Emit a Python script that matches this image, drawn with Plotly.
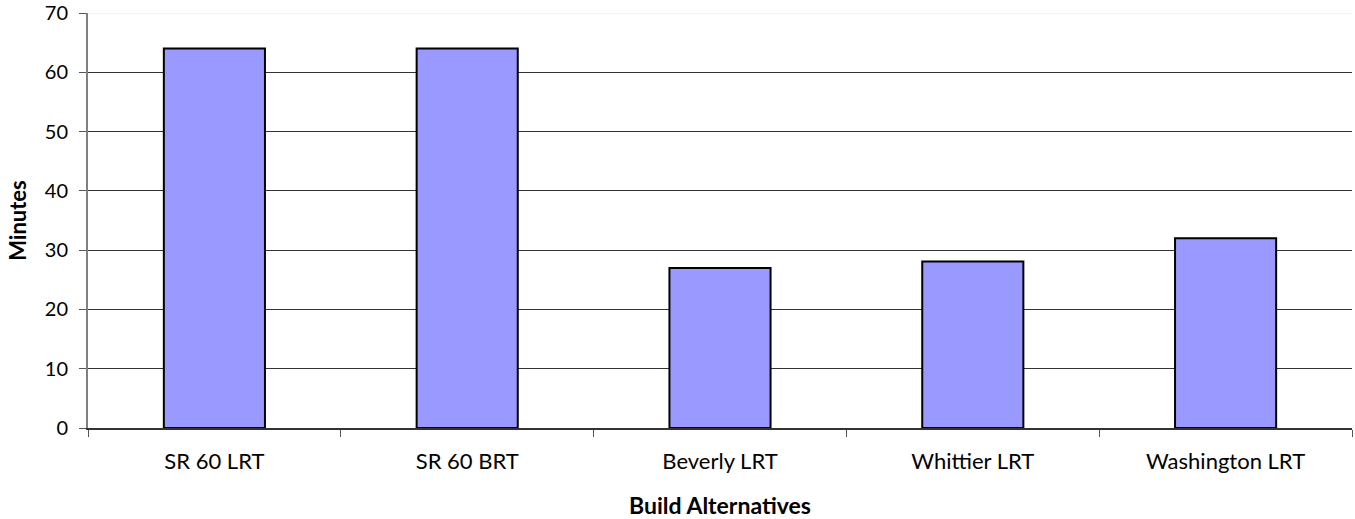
import plotly.graph_objects as go

categories = ["SR 60 LRT", "SR 60 BRT", "Beverly LRT", "Whittier LRT", "Washington LRT"]
minutes = [64, 64, 27, 28.1, 32]
y_ticks = [0, 10, 20, 30, 40, 50, 60, 70]

font_family = "Lato, 'Open Sans', sans-serif"

fig = go.Figure()
fig.add_trace(go.Bar(
    x=categories,
    y=minutes,
    width=0.4,
    marker=dict(color="#9999FF", line=dict(color="#000000", width=2)),
    hoverinfo="x+y",
))

fig.update_layout(
    width=1355,
    height=519,
    margin=dict(l=88, r=3, t=13, b=91),
    plot_bgcolor="white",
    paper_bgcolor="white",
    showlegend=False,
    font=dict(family=font_family, color="#000000", size=18),
    bargap=0.6,
)

fig.update_xaxes(
    type="category",
    automargin=False,
    showline=True,
    linecolor="#333333",
    linewidth=1.5,
    ticks="outside",
    tickson="boundaries",
    ticklen=7,
    tickcolor="#555555",
    ticklabelstandoff=13,
    tickfont=dict(size=22, family=font_family),
    title=dict(text="<b>Build Alternatives</b>", font=dict(size=23, family=font_family), standoff=26),
    showgrid=False,
)

fig.update_yaxes(
    range=[0, 70],
    automargin=False,
    tickvals=y_ticks,
    showline=True,
    linecolor="#808080",
    linewidth=2,
    ticks="outside",
    ticklen=7,
    tickcolor="#555555",
    ticklabelstandoff=7,
    ticklabeloverflow="allow",
    tickfont=dict(size=20, family=font_family),
    showgrid=True,
    gridcolor="#333333",
    gridwidth=1,
    zeroline=False,
    title=dict(text="<b>Minutes</b>", font=dict(size=22, family=font_family), standoff=12),
)

# light top gridline (70) as in the reference
fig.add_shape(type="line", xref="paper", yref="y", x0=0, x1=1, y0=70, y1=70,
              line=dict(color="#e6e6e6", width=1), layer="above")

fig.write_html("out.html", config={"displayModeBar": False},
               post_script="document.body.style.margin='0';")
